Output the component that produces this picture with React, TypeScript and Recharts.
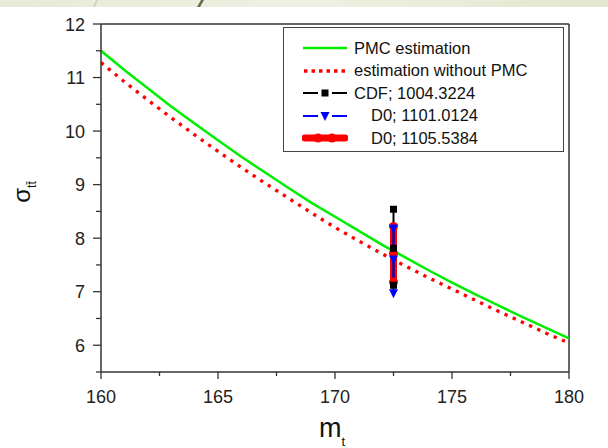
import React from "react";
import { ComposedChart, Line, XAxis, YAxis, Legend, ReferenceLine } from "recharts";

// m_t grid and the two estimation curves
const mtValues = [160, 161, 162, 163, 164, 165, 166, 167, 168, 169, 170, 171, 172, 173, 174, 175, 176, 177, 178, 179, 180];
const pmcEstimation = [11.5, 11.14, 10.8, 10.46, 10.14, 9.83, 9.52, 9.23, 8.94, 8.66, 8.4, 8.14, 7.88, 7.64, 7.4, 7.17, 6.95, 6.74, 6.53, 6.33, 6.13];
const noPmcEstimation = [11.28, 10.92, 10.58, 10.25, 9.93, 9.62, 9.32, 9.03, 8.75, 8.47, 8.2, 7.95, 7.71, 7.48, 7.26, 7.05, 6.84, 6.63, 6.43, 6.23, 6.04];

// vertical measurement bars at m_t = 172.5
const measureX = 172.5;
const cdfValues = [7.12, 7.81, 8.54];
const d0aValues = [6.97, 7.6, 8.18];
const d0bValues = [7.18, 7.72, 8.22];

const legendNames = ["PMC estimation", "estimation without PMC", "CDF; 1004.3224", "D0; 1101.0124", "D0; 1105.5384"];

const xTicks = [160, 162.5, 165, 167.5, 170, 172.5, 175, 177.5, 180];
const yTicks = [5.5, 6, 6.5, 7, 7.5, 8, 8.5, 9, 9.5, 10, 10.5, 11, 11.5, 12];

const curveData = mtValues.map((x, i) => ({ x, pmc: pmcEstimation[i], noPmc: noPmcEstimation[i] }));
const toPoints = (vals: number[]) => vals.map((y) => ({ x: measureX, y }));

const AXIS = "#333";

const XTick = ({ x, y, payload }: any) => {
  const major = payload.value % 5 === 0;
  return (
    <g>
      <line x1={x} y1={y} x2={x} y2={y + (major ? 7 : 4)} stroke={AXIS} strokeWidth={1.3} />
      {major && (
        <text x={x} y={y + 31} textAnchor="middle" fontSize={18} fill="#222">
          {payload.value}
        </text>
      )}
    </g>
  );
};

const YTick = ({ x, y, payload }: any) => {
  const major = Number.isInteger(payload.value);
  return (
    <g>
      <line x1={x} y1={y} x2={x - (major ? 8 : 5)} y2={y} stroke={AXIS} strokeWidth={1.3} />
      {major && payload.value >= 6 && (
        <text x={x - 16} y={y + 6.5} textAnchor="end" fontSize={18} fill="#222">
          {payload.value}
        </text>
      )}
    </g>
  );
};

const Square = (p: any) => (
  <rect key={`sq-${p.index}`} x={p.cx - 3.5} y={p.cy - 3.5} width={7} height={7} fill="#000" />
);
const Tri = (p: any) => (
  <polygon key={`tr-${p.index}`} points={`${p.cx - 4.5},${p.cy - 4} ${p.cx + 4.5},${p.cy - 4} ${p.cx},${p.cy + 5}`} fill="#0000ff" />
);
const Circ = (p: any) => <circle key={`ci-${p.index}`} cx={p.cx} cy={p.cy} r={4.5} fill="#ff0000" />;

const Sample = ({ kind }: { kind: number }) => {
  const w = 46;
  return (
    <svg width={w} height={14} style={{ display: "block" }}>
      {kind === 0 && <line x1={1} y1={7} x2={w - 1} y2={7} stroke="#00ee00" strokeWidth={2.5} />}
      {kind === 1 && <line x1={2} y1={7} x2={w} y2={7} stroke="#ff0000" strokeWidth={3.5} strokeDasharray="3.5 4" />}
      {kind === 2 && (
        <g>
          <line x1={1} y1={7} x2={16} y2={7} stroke="#000" strokeWidth={2} />
          <line x1={30} y1={7} x2={w - 1} y2={7} stroke="#000" strokeWidth={2} />
          <rect x={19.5} y={3.5} width={7} height={7} fill="#000" />
        </g>
      )}
      {kind === 3 && (
        <g>
          <line x1={1} y1={7} x2={16} y2={7} stroke="#0000ff" strokeWidth={2} />
          <line x1={30} y1={7} x2={w - 1} y2={7} stroke="#0000ff" strokeWidth={2} />
          <polygon points="18.5,3 27.5,3 23,12" fill="#0000ff" />
        </g>
      )}
      {kind === 4 && (
        <g>
          <line x1={3} y1={7} x2={w - 3} y2={7} stroke="#ff0000" strokeWidth={7} strokeLinecap="round" />
          <circle cx={16} cy={7} r={4.5} fill="#ff0000" />
          <circle cx={30} cy={7} r={4.5} fill="#ff0000" />
        </g>
      )}
    </svg>
  );
};

const renderLegend = () => (
  <div
    style={{
      boxSizing: "border-box",
      width: 281,
      height: 125,
      border: "1.5px solid #444",
      background: "#fff",
      padding: "9px 0 0 18px",
      fontSize: 16.5,
      color: "#111",
    }}
  >
    {legendNames.map((name, i) => (
      <div key={name} style={{ display: "flex", alignItems: "center", height: 22.5 }}>
        <Sample kind={i} />
        <span style={{ marginLeft: i >= 3 ? 23 : 6, whiteSpace: "nowrap" }}>{name}</span>
      </div>
    ))}
  </div>
);

const YLabel = () => (
  <text transform="rotate(-90, 30, 192)" x={30} y={192} textAnchor="middle" fontSize={24} fill="#111">
    σ
    <tspan fontSize={12} dy={6}>
      tt̄
    </tspan>
  </text>
);

const XLabel = () => (
  <text x={332} y={437} textAnchor="middle" fontSize={27} fill="#111">
    m
    <tspan fontSize={13} dy={9}>
      t
    </tspan>
  </text>
);

export default function App() {
  return (
    <div
      style={{
        position: "absolute",
        left: 0,
        top: 0,
        width: 608,
        height: 448,
        background: "#fff",
        fontFamily: "'Liberation Sans', Arial, sans-serif",
        overflow: "hidden",
      }}
    >
      <svg width={608} height={8} style={{ position: "absolute", left: 0, top: 0 }}>
        <defs>
          <linearGradient id="strip" x1="0" x2="1" y1="0" y2="0">
            <stop offset="0" stopColor="#e6ead6" />
            <stop offset="0.5" stopColor="#eef1e2" />
            <stop offset="1" stopColor="#e2e7cf" />
          </linearGradient>
        </defs>
        <rect x={0} y={0} width={608} height={7} fill="url(#strip)" />
        <polygon points="93,7 95,7 98,0 96,0" fill="#cfd3c0" />
        <polygon points="197,7 200,7 204,0 201,0" fill="#6b6a4c" />
      </svg>
      <ComposedChart width={608} height={448} data={curveData} margin={{ top: 24, right: 39, left: 0, bottom: 0 }}>
        <XAxis
          dataKey="x"
          type="number"
          domain={[160, 180]}
          ticks={xTicks}
          interval={0}
          height={76}
          tickSize={0}
          tickMargin={0}
          tickLine={false}
          tick={<XTick />}
          axisLine={{ stroke: AXIS, strokeWidth: 1.5 }}
          label={<XLabel />}
          allowDataOverflow
        />
        <YAxis
          type="number"
          domain={[5.5, 12]}
          ticks={yTicks}
          interval={0}
          width={101}
          tickSize={0}
          tickMargin={0}
          tickLine={false}
          tick={<YTick />}
          axisLine={{ stroke: AXIS, strokeWidth: 1.5 }}
          label={<YLabel />}
          allowDataOverflow
        />
        <ReferenceLine y={12} stroke={AXIS} strokeWidth={1.5} />
        <ReferenceLine x={180} stroke={AXIS} strokeWidth={1.5} />
        <Line dataKey="pmc" stroke="#00ee00" strokeWidth={2.5} dot={false} isAnimationActive={false} />
        <Line dataKey="noPmc" stroke="#ff0000" strokeWidth={3.3} strokeDasharray="3.3 5.7" dot={false} isAnimationActive={false} />
        <Line data={toPoints(d0bValues)} dataKey="y" stroke="#ff0000" strokeWidth={7} dot={Circ} isAnimationActive={false} />
        <Line data={toPoints(cdfValues)} dataKey="y" stroke="#000" strokeWidth={2} dot={Square} isAnimationActive={false} />
        <Line data={toPoints(d0aValues)} dataKey="y" stroke="#0000ff" strokeWidth={2} dot={Tri} isAnimationActive={false} />
        <Legend
          layout="vertical"
          align="center"
          verticalAlign="middle"
          content={renderLegend}
          wrapperStyle={{ left: 283, top: 27, width: 281, height: 125 }}
        />
      </ComposedChart>
    </div>
  );
}
